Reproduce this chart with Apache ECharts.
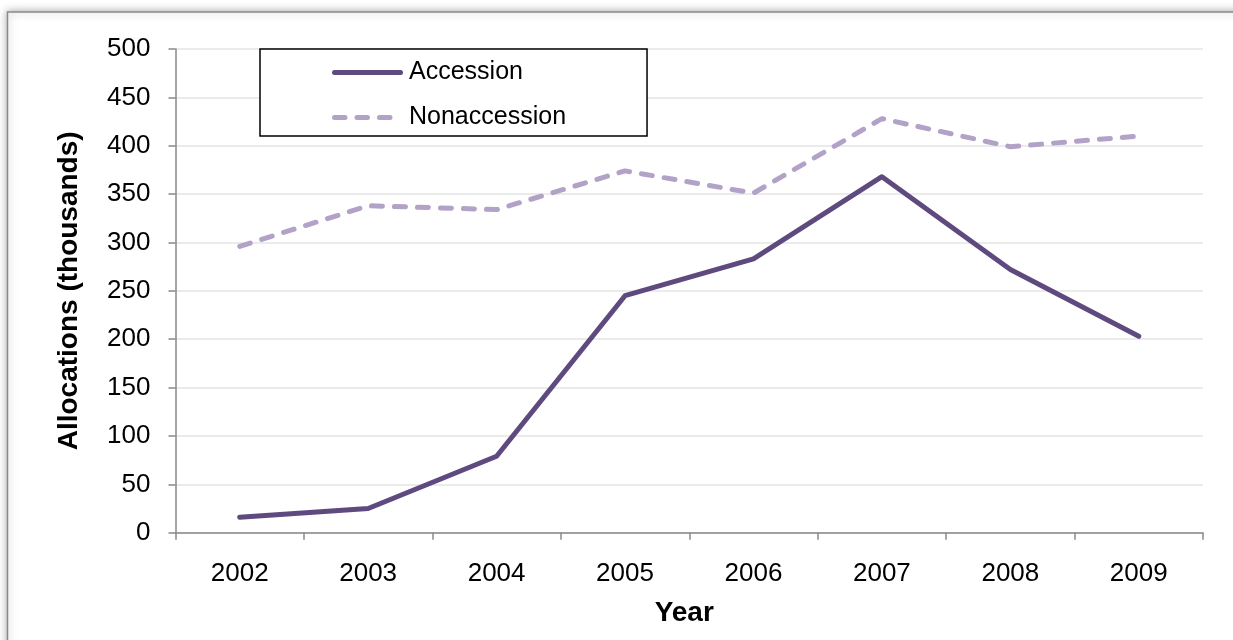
<!DOCTYPE html>
<html>
<head>
<meta charset="utf-8">
<title>Allocations by year</title>
<script src="https://cdn.jsdelivr.net/npm/echarts@6/dist/echarts.min.js"></script>
<style>
  html, body { margin: 0; padding: 0; background: #ffffff; }
  #chart { width: 1233px; height: 640px; }
</style>
</head>
<body>
<div id="chart"></div>
<script>
// Allocations (thousands) per year
const years = ['2002', '2003', '2004', '2005', '2006', '2007', '2008', '2009'];
const accession = [16, 25, 79, 245, 283, 368, 272, 203];
const nonaccession = [296, 338, 334, 374, 351, 428, 399, 410];

const FONT = '"Liberation Sans", Arial, Helvetica, sans-serif';
const AXIS_GRAY = '#898989';
const DARK = '#5f4a7f';
const LIGHT = '#b3a2c7';

// legend keys: a solid stroke and three rounded dashes, both 71 x 5
const SOLID_ICON = 'path://M2.5,0h66a2.5,2.5 0 0 1 0,5h-66a2.5,2.5 0 0 1 0,-5z';
const DASH_ICON = 'path://M2.5,0h10.5a2.5,2.5 0 0 1 0,5h-10.5a2.5,2.5 0 0 1 0,-5z' +
  'M25,0h10.5a2.5,2.5 0 0 1 0,5h-10.5a2.5,2.5 0 0 1 0,-5z' +
  'M47.5,0h10.5a2.5,2.5 0 0 1 0,5h-10.5a2.5,2.5 0 0 1 0,-5z' +
  'M71,0L71,5L71,5z';

const chart = echarts.init(document.getElementById('chart'), null, { renderer: 'canvas' });

chart.setOption({
  backgroundColor: '#ffffff',
  animation: false,
  textStyle: { fontFamily: FONT },
  graphic: [
    {
      // outer chart frame with a soft shadow
      type: 'rect',
      z: -10,
      silent: true,
      shape: { x: 7.5, y: 12, width: 1260, height: 680 },
      style: {
        fill: '#ffffff',
        stroke: '#8a8a8a',
        lineWidth: 1.5,
        shadowBlur: 8,
        shadowColor: 'rgba(0,0,0,0.35)'
      }
    }
  ],
  grid: {
    left: 175.5,
    right: 30,
    top: 49,
    bottom: 107.3,
    containLabel: false
  },
  legend: {
    data: [
      { name: 'Accession', icon: SOLID_ICON },
      { name: 'Nonaccession', icon: DASH_ICON }
    ],
    orient: 'vertical',
    left: 260,
    top: 49,
    itemWidth: 71,
    itemHeight: 5,
    itemGap: 20,
    padding: [11, 81, 6, 72],
    borderColor: '#000000',
    borderWidth: 1.5,
    backgroundColor: '#ffffff',
    textStyle: { fontFamily: FONT, fontSize: 25, color: '#000000', padding: [0, 0, 0, 1] }
  },
  xAxis: {
    type: 'category',
    data: years,
    boundaryGap: true,
    name: 'Year',
    nameLocation: 'middle',
    nameGap: 67,
    nameTextStyle: {
      fontFamily: FONT, fontSize: 28, fontWeight: 'bold', color: '#000000',
      padding: [0, 10, 0, 0]
    },
    axisLine: { show: true, lineStyle: { color: AXIS_GRAY, width: 1.5 } },
    axisTick: { show: true, alignWithLabel: false, length: 7, lineStyle: { color: AXIS_GRAY, width: 1.5 } },
    axisLabel: { margin: 28, fontFamily: FONT, fontSize: 26, color: '#000000' },
    splitLine: { show: false }
  },
  yAxis: {
    type: 'value',
    min: 0,
    max: 500,
    interval: 50,
    name: 'Allocations (thousands)',
    nameLocation: 'middle',
    nameGap: 92,
    nameTextStyle: { fontFamily: FONT, fontSize: 28, fontWeight: 'bold', color: '#000000' },
    axisLine: { show: true, lineStyle: { color: AXIS_GRAY, width: 1.5 } },
    axisTick: { show: true, length: 7, lineStyle: { color: AXIS_GRAY, width: 1.5 } },
    axisLabel: { margin: 25, fontFamily: FONT, fontSize: 26, color: '#000000' },
    splitLine: { show: true, lineStyle: { color: '#e4e4e4', width: 1.5 } }
  },
  series: [
    {
      name: 'Accession',
      type: 'line',
      data: accession,
      symbol: 'none',
      z: 3,
      color: DARK,
      lineStyle: { color: DARK, width: 5, cap: 'round', join: 'round' }
    },
    {
      name: 'Nonaccession',
      type: 'line',
      data: nonaccession,
      symbol: 'none',
      z: 2,
      color: LIGHT,
      lineStyle: { color: LIGHT, width: 5, type: [11, 12], cap: 'round', join: 'round' }
    }
  ]
});
</script>
</body>
</html>
